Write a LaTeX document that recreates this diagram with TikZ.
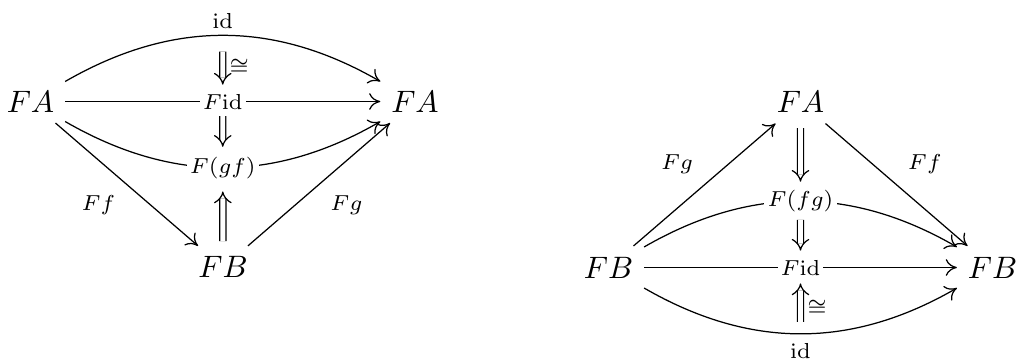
\documentclass[tikz,border=0pt]{standalone}
\usetikzlibrary{arrows.meta}

\begin{document}
\begin{tikzpicture}[x=0.3226pt, y=0.3226pt,
  obj/.style={inner sep=3.33pt},
  arr/.style={-{Computer Modern Rightarrow[length=3.6pt, width=5.4pt]}, line width=0.4pt},
  cell/.style={double, double distance=1.6pt, -{Implies[scale=1.3]}},
  desc/.style={fill=white, inner sep=1pt, font=\scriptsize},
  lbl/.style={inner sep=2pt, font=\scriptsize}]
\useasboundingbox (0,0) rectangle (1017,363);
% left square
\node[obj] (fa1) at (30.5,261.5) {$FA$};
\node[obj] (fa2) at (415,261.5) {$FA$};
\node[obj] (fb1) at (223,95.6) {$FB$};
\draw[arr] (fa1) to[bend left=30] node[lbl, above] (id1) {$\mathrm{id}$} (fa2);
\draw[arr] (fa1) -- node[desc] (fid1) {$F\mathrm{id}$} (fa2);
\draw[arr] (fa1) to[bend right=30] node[desc] (fgf) {$F(gf)$} (fa2);
\draw[arr] (fa1) -- node[lbl, below left=1.5pt] (ff1) {$Ff$} (fb1);
\draw[arr] (fb1) -- node[lbl, below right=1.5pt] (fg1) {$Fg$} (fa2);
\draw[cell, shorten <=5.2pt, shorten >=1.8pt] (id1) -- node[lbl, right, pos=0.58] (iso1) {$\cong$} (fid1);
\draw[cell, shorten <=1.1pt, shorten >=2pt] (fid1) -- (fgf);
\draw[cell, shorten <=1.5pt, shorten >=3pt] (fb1) -- (fgf);
% right square
\node[obj] (fb2) at (608.5,95.5) {$FB$};
\node[obj] (fa3) at (800.5,261) {$FA$};
\node[obj] (fb3) at (992.5,95.5) {$FB$};
\draw[arr] (fb2) -- node[lbl, above left=1.5pt] (fg2) {$Fg$} (fa3);
\draw[arr] (fa3) -- node[lbl, above right=1.5pt] (ff2) {$Ff$} (fb3);
\draw[arr] (fb2) to[bend left=30] node[desc] (ffg) {$F(fg)$} (fb3);
\draw[arr] (fb2) -- node[desc] (fid2) {$F\mathrm{id}$} (fb3);
\draw[arr] (fb2) to[bend right=30] node[lbl, below=1pt] (id2) {$\mathrm{id}$} (fb3);
\draw[cell, shorten <=1.5pt, shorten >=1.6pt] (fa3) -- (ffg);
\draw[cell, shorten <=1.3pt, shorten >=1.8pt] (ffg) -- (fid2);
\draw[cell, shorten <=4.8pt, shorten >=1.5pt] (id2) -- node[lbl, right] (iso2) {$\cong$} (fid2);
\end{tikzpicture}
\end{document}
